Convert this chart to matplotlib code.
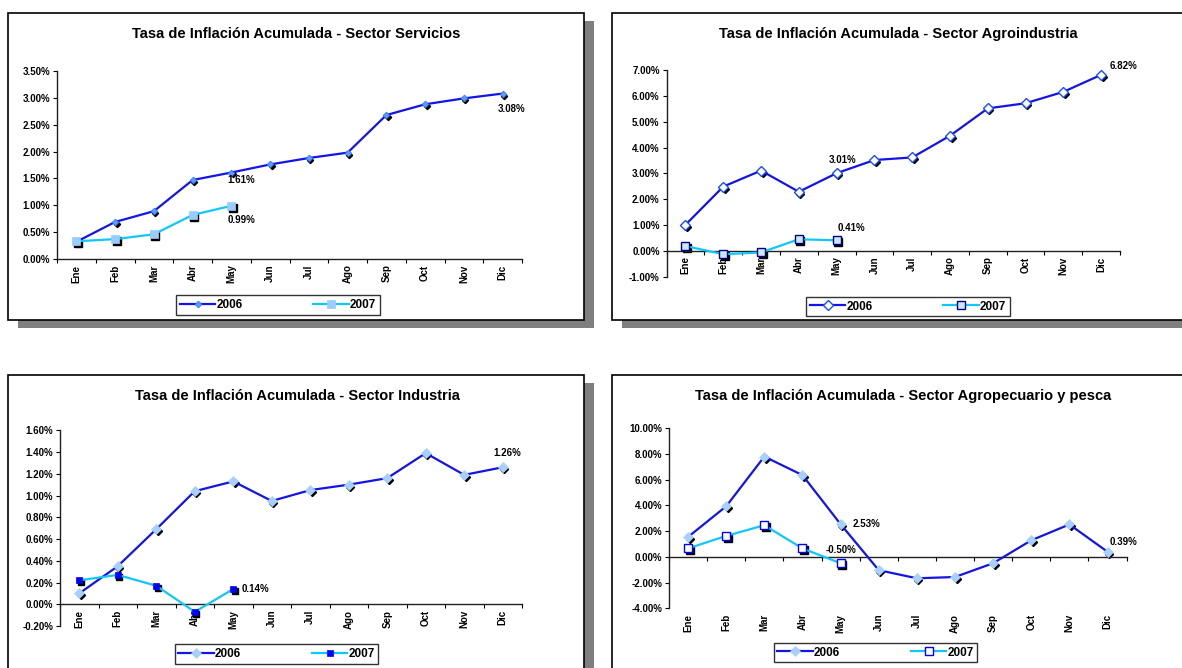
import matplotlib
matplotlib.use('Agg')
import matplotlib.pyplot as plt
from matplotlib.patches import Rectangle
from matplotlib.ticker import FuncFormatter, MultipleLocator
from matplotlib import transforms
import numpy as np

plt.rcParams['font.family'] = ['Liberation Sans', 'DejaVu Sans']
plt.rcParams['font.weight'] = 'bold'

W, H = 1182, 668

meses = ['Ene', 'Feb', 'Mar', 'Abr', 'May', 'Jun',
         'Jul', 'Ago', 'Sep', 'Oct', 'Nov', 'Dic']

# values in percent
servicios_2006 = [0.32, 0.69, 0.89, 1.47, 1.61, 1.76, 1.88, 1.98, 2.68, 2.88, 2.99, 3.08]
servicios_2007 = [0.33, 0.37, 0.46, 0.82, 0.99]

agro_2006 = [1.01, 2.49, 3.11, 2.29, 3.01, 3.52, 3.62, 4.46, 5.52, 5.72, 6.16, 6.82]
agro_2007 = [0.19, -0.13, -0.06, 0.45, 0.41]

industria_2006 = [0.10, 0.35, 0.69, 1.04, 1.13, 0.95, 1.05, 1.10, 1.16, 1.39, 1.19, 1.26]
industria_2007 = [0.22, 0.27, 0.17, -0.07, 0.14]

agropec_2006 = [1.54, 3.92, 7.78, 6.34, 2.53, -1.04, -1.67, -1.57, -0.50, 1.28, 2.51, 0.39]
agropec_2007 = [0.65, 1.62, 2.45, 0.65, -0.50]

BLUE = '#1414e6'
CYAN = '#10c8f8'


def fx(x):
    return x / W


def fy(y):
    return 1 - y / H


panels = [
    dict(title='Tasa de Inflación Acumulada - Sector Servicios',
         s06=servicios_2006, s07=servicios_2007,
         ylim=(0, 3.5), step=0.5,
         ax=(57, 71, 522, 259), frame=(8, 13, 583.5, 320), title_xy=(296, 34),
         leg=(278, 305), low_labels=False,
         m06=dict(marker='D', ms=3.5, mfc='#5c9cff', mec='#3070ff', mew=0.5),
         m07=dict(marker='s', ms=6, mfc='#99ccff', mec='#99ccff', mew=0.5),
         labels=[('06', 4, (-4, -7), 'left'), ('06', 11, (-5, -15), 'left'),
                 ('07', 4, (-4, -14), 'left')]),
    dict(title='Tasa de Inflación Acumulada - Sector Agroindustria',
         s06=agro_2006, s07=agro_2007,
         ylim=(-1, 7), step=1,
         ax=(666.6, 70.2, 1120, 276.7), frame=(611.7, 13, 1200, 320), title_xy=(898, 34),
         leg=(908, 306.5), low_labels=False,
         m06=dict(marker='D', ms=5, mfc='white', mec='#1a4cff', mew=1),
         m07=dict(marker='s', ms=6, mfc='#cce8ff', mec='#000080', mew=1),
         labels=[('06', 4, (6, 13), 'center'), ('06', 11, (9, 9), 'left'),
                 ('07', 4, (1, 12), 'left')]),
    dict(title='Tasa de Inflación Acumulada - Sector Industria',
         s06=industria_2006, s07=industria_2007,
         ylim=(-0.2, 1.6), step=0.2,
         ax=(60, 430.3, 522, 626), frame=(8, 375, 583.5, 700), title_xy=(297, 396),
         leg=(276.5, 654), low_labels=False,
         m06=dict(marker='D', ms=5, mfc='#a8d0ff', mec='#a8d0ff', mew=0.5),
         m07=dict(marker='s', ms=5, mfc='#0000ff', mec='#0000ff', mew=0.5),
         labels=[('06', 11, (4, 14), 'center'), ('07', 4, (8, 0), 'left')]),
    dict(title='Tasa de Inflación Acumulada - Sector Agropecuario y pesca',
         s06=agropec_2006, s07=agropec_2007,
         ylim=(-4, 10), step=2,
         ax=(669, 428, 1126.6, 608.3), frame=(611.7, 375, 1200, 700), title_xy=(903, 396),
         leg=(875.5, 652.5), low_labels=True,
         m06=dict(marker='D', ms=5, mfc='#a8d0ff', mec='#a8d0ff', mew=0.5),
         m07=dict(marker='s', ms=6, mfc='white', mec='#0000ff', mew=1),
         labels=[('06', 4, (12, 0), 'left'), ('07', 4, (0, 13), 'center'),
                 ('06', 11, (2, 10), 'left')]),
]

fig = plt.figure(figsize=(W / 100, H / 100), dpi=100)

pct = FuncFormatter(lambda v, pos: '%.2f%%' % v)

for p in panels:
    x0, y0, x1, y1 = p['frame']
    # grey drop shadow then white framed box
    fig.add_artist(Rectangle((fx(x0 + 10), fy(y1 + 7.5)), fx(x1 - x0), (y1 - y0) / H,
                             transform=fig.transFigure, facecolor='#7f7f7f',
                             edgecolor='none', zorder=-3))
    fig.add_artist(Rectangle((fx(x0), fy(y1)), fx(x1 - x0), (y1 - y0) / H,
                             transform=fig.transFigure, facecolor='white',
                             edgecolor='black', linewidth=1.2, zorder=-2))

    ax0, ay0, ax1, ay1 = p['ax']
    ax = fig.add_axes([fx(ax0), fy(ay1), fx(ax1 - ax0), (ay1 - ay0) / H])
    ax.set_facecolor('none')

    x06 = np.arange(len(p['s06']))
    x07 = np.arange(len(p['s07']))

    shadow = ax.transData + transforms.ScaledTranslation(1.1 / 72, -1.4 / 72,
                                                         fig.dpi_scale_trans)
    ax.plot(x06, p['s06'], linestyle='none', marker=p['m06']['marker'],
            ms=p['m06']['ms'] * 0.9, color='black', transform=shadow, zorder=2)
    ax.plot(x07, p['s07'], linestyle='none', marker=p['m07']['marker'],
            ms=p['m07']['ms'] * 0.9, color='black', transform=shadow, zorder=2)
    l06, = ax.plot(x06, p['s06'], color=BLUE, lw=1.6, zorder=3, **p['m06'])
    l07, = ax.plot(x07, p['s07'], color=CYAN, lw=1.6, zorder=3, **p['m07'])

    for series, i, off, ha in p['labels']:
        vals = p['s06'] if series == '06' else p['s07']
        ax.annotate('%.2f%%' % vals[i], (i, vals[i]), xytext=off,
                    textcoords='offset pixels', ha=ha, va='center',
                    fontsize=7, fontweight='bold', zorder=5)

    ax.set_xlim(-0.5, 11.5)
    ax.set_ylim(*p['ylim'])
    ax.yaxis.set_major_locator(MultipleLocator(p['step']))
    ax.yaxis.set_major_formatter(pct)
    ax.tick_params(axis='y', length=3, width=0.8, labelsize=7, pad=2)

    for s in ['top', 'right']:
        ax.spines[s].set_visible(False)
    ax.spines['bottom'].set_position(('data', 0))
    for s in ['left', 'bottom']:
        ax.spines[s].set_linewidth(1.0)
        ax.spines[s].set_color('#202020')

    ax.set_xticks(np.arange(-0.5, 12, 1))
    ax.set_xticklabels([])
    ax.tick_params(axis='x', which='major', length=3, width=0.8)
    if p['low_labels']:
        sec = ax.secondary_xaxis('bottom')
        sec.set_xticks(np.arange(12))
        sec.set_xticklabels(meses, rotation=90)
        sec.tick_params(length=0, labelsize=7, pad=4)
        sec.spines['bottom'].set_visible(False)
    else:
        ax.set_xticks(np.arange(12), minor=True)
        ax.set_xticklabels(meses, minor=True, rotation=90)
        ax.tick_params(axis='x', which='minor', length=0, labelsize=7, pad=4)

    fig.text(fx(p['title_xy'][0]), fy(p['title_xy'][1]), p['title'],
             ha='center', va='center', fontsize=10.5, fontweight='bold')

    leg = ax.legend([l06, l07], ['2006', '2007'], loc='center',
                    bbox_to_anchor=(fx(p['leg'][0]), fy(p['leg'][1])),
                    bbox_transform=fig.transFigure, ncol=2, fontsize=8.5,
                    frameon=True, fancybox=False, edgecolor='black',
                    handlelength=3.0, handletextpad=0.1, columnspacing=6.0,
                    borderpad=0.3, numpoints=1)
    leg.get_frame().set_linewidth(1.0)

fig.savefig('out.png', dpi=100)
